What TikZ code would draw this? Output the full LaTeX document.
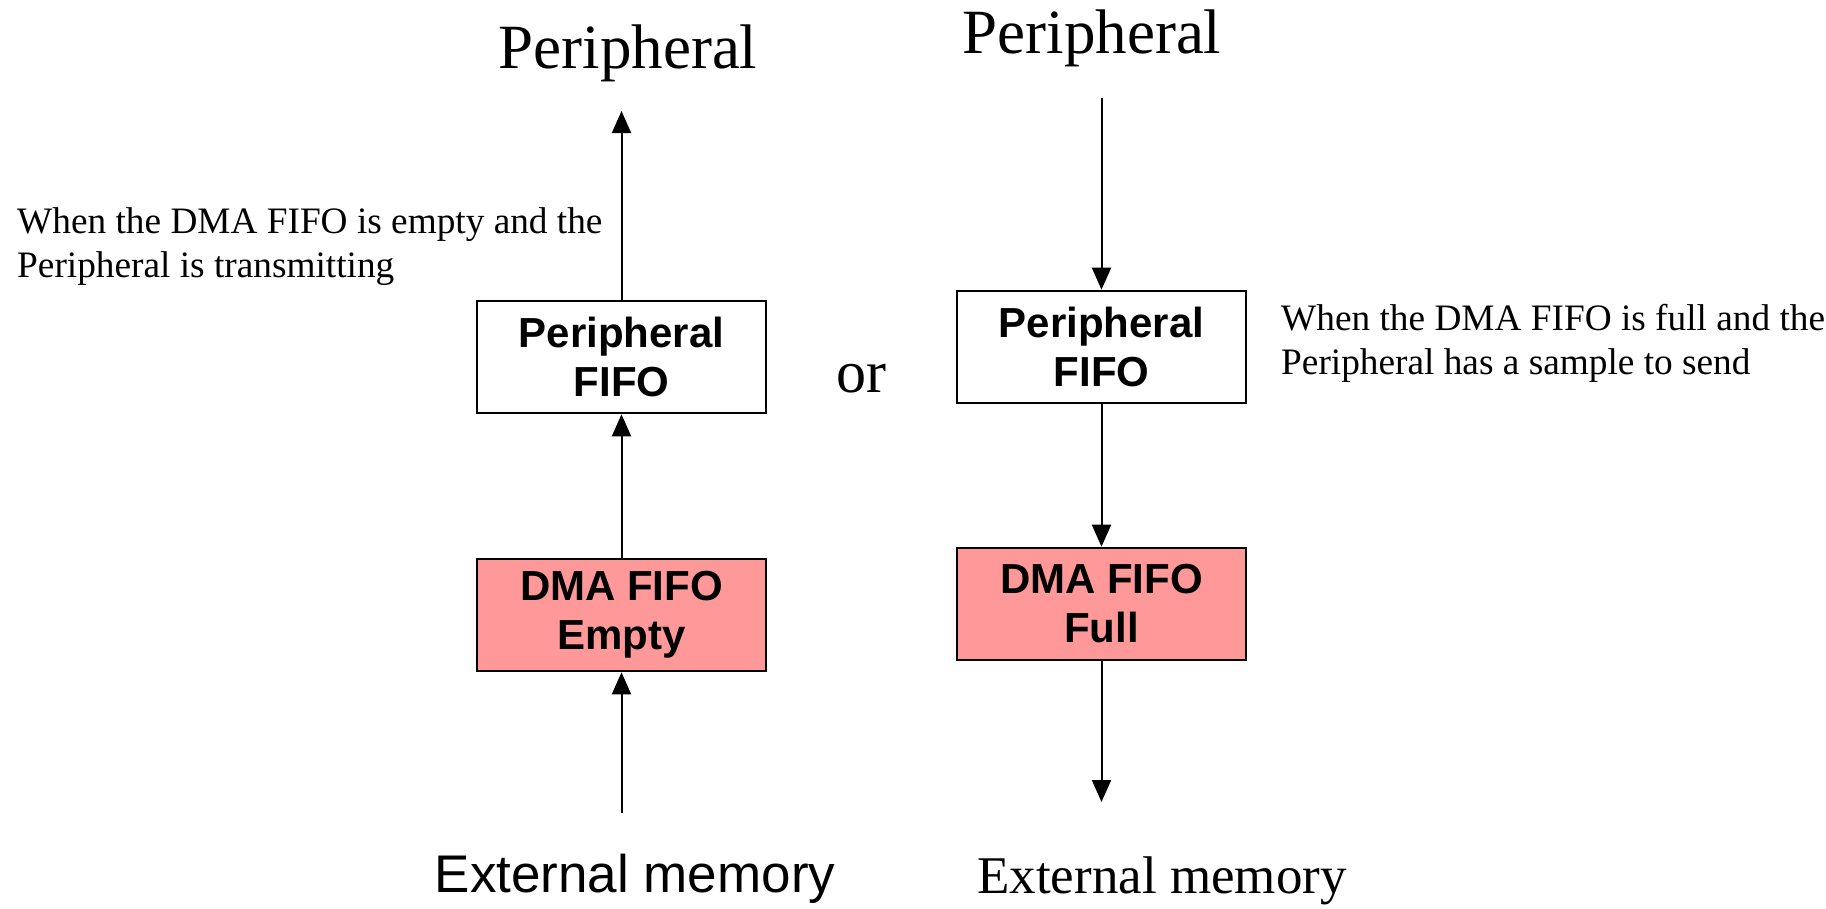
\documentclass[tikz,border=0pt]{standalone}
\usepackage{fontspec}
\setmainfont{Liberation Serif}
\newfontfamily\arialfont{Liberation Sans}
\usetikzlibrary{arrows.meta}

\definecolor{dmapink}{RGB}{255,153,153}
\tikzset{
  fifobox/.style={draw=black, line width=2.6pt, minimum width=289pt, minimum height=112pt,
    inner sep=0pt, align=center, font=\arialfont\bfseries\fontsize{42}{49}\selectfont},
  dmabox/.style={fifobox, fill=dmapink},
  flow/.style={line width=2pt, -{Triangle[length=22pt,width=19pt]}},
  title/.style={inner sep=0pt, anchor=base, font=\fontsize{63}{72}\selectfont},
  % multi-line notes: the base anchor sits on the last line's baseline
  note/.style={inner sep=0pt, anchor=base west, align=left, font=\fontsize{37.3}{44}\selectfont},
}

\begin{document}
\begin{tikzpicture}[x=1pt, y=-1pt]
  \useasboundingbox (0,0) rectangle (1826,908);

  % transmit case (left column)
  \node[title] (perL) at (628,68) {Peripheral};
  \node[fifobox] (pfL) at (621.5,357) {Peripheral\\FIFO};
  \node[dmabox] (dmaL) at (621.5,615) {DMA FIFO\\Empty};
  \coordinate (topL) at (621.5,111);
  \coordinate (botL) at (621.5,813);
  \node[inner sep=0pt, anchor=base, font=\arialfont\fontsize{53}{60}\selectfont] (extL) at (635,892) {External memory};
  \node[note] (noteL) at (17,277) {When the DMA FIFO is empty and the\\Peripheral is transmitting};

  \draw[flow] (botL) -- (dmaL.south);
  \draw[flow] (dmaL.north) -- (pfL.south);
  \draw[flow] (pfL.north) -- (topL);

  % separator
  \node[inner sep=0pt, anchor=base, font=\fontsize{60}{70}\selectfont] (orw) at (861,392) {or};

  % receive case (right column)
  \node[title] (perR) at (1092,53) {Peripheral};
  \node[fifobox] (pfR) at (1101.5,347) {Peripheral\\FIFO};
  \node[dmabox] (dmaR) at (1101.5,604) {DMA FIFO\\Full};
  \coordinate (topR) at (1101.5,98);
  \coordinate (botR) at (1101.5,802);
  \node[inner sep=0pt, anchor=base, font=\fontsize{53}{60}\selectfont] (extR) at (1162,893) {External memory};
  \node[note] (noteR) at (1281,374) {When the DMA FIFO is full and the\\Peripheral has a sample to send};

  \draw[flow] (topR) -- (pfR.north);
  \draw[flow] (pfR.south) -- (dmaR.north);
  \draw[flow] (dmaR.south) -- (botR);
\end{tikzpicture}
\end{document}
